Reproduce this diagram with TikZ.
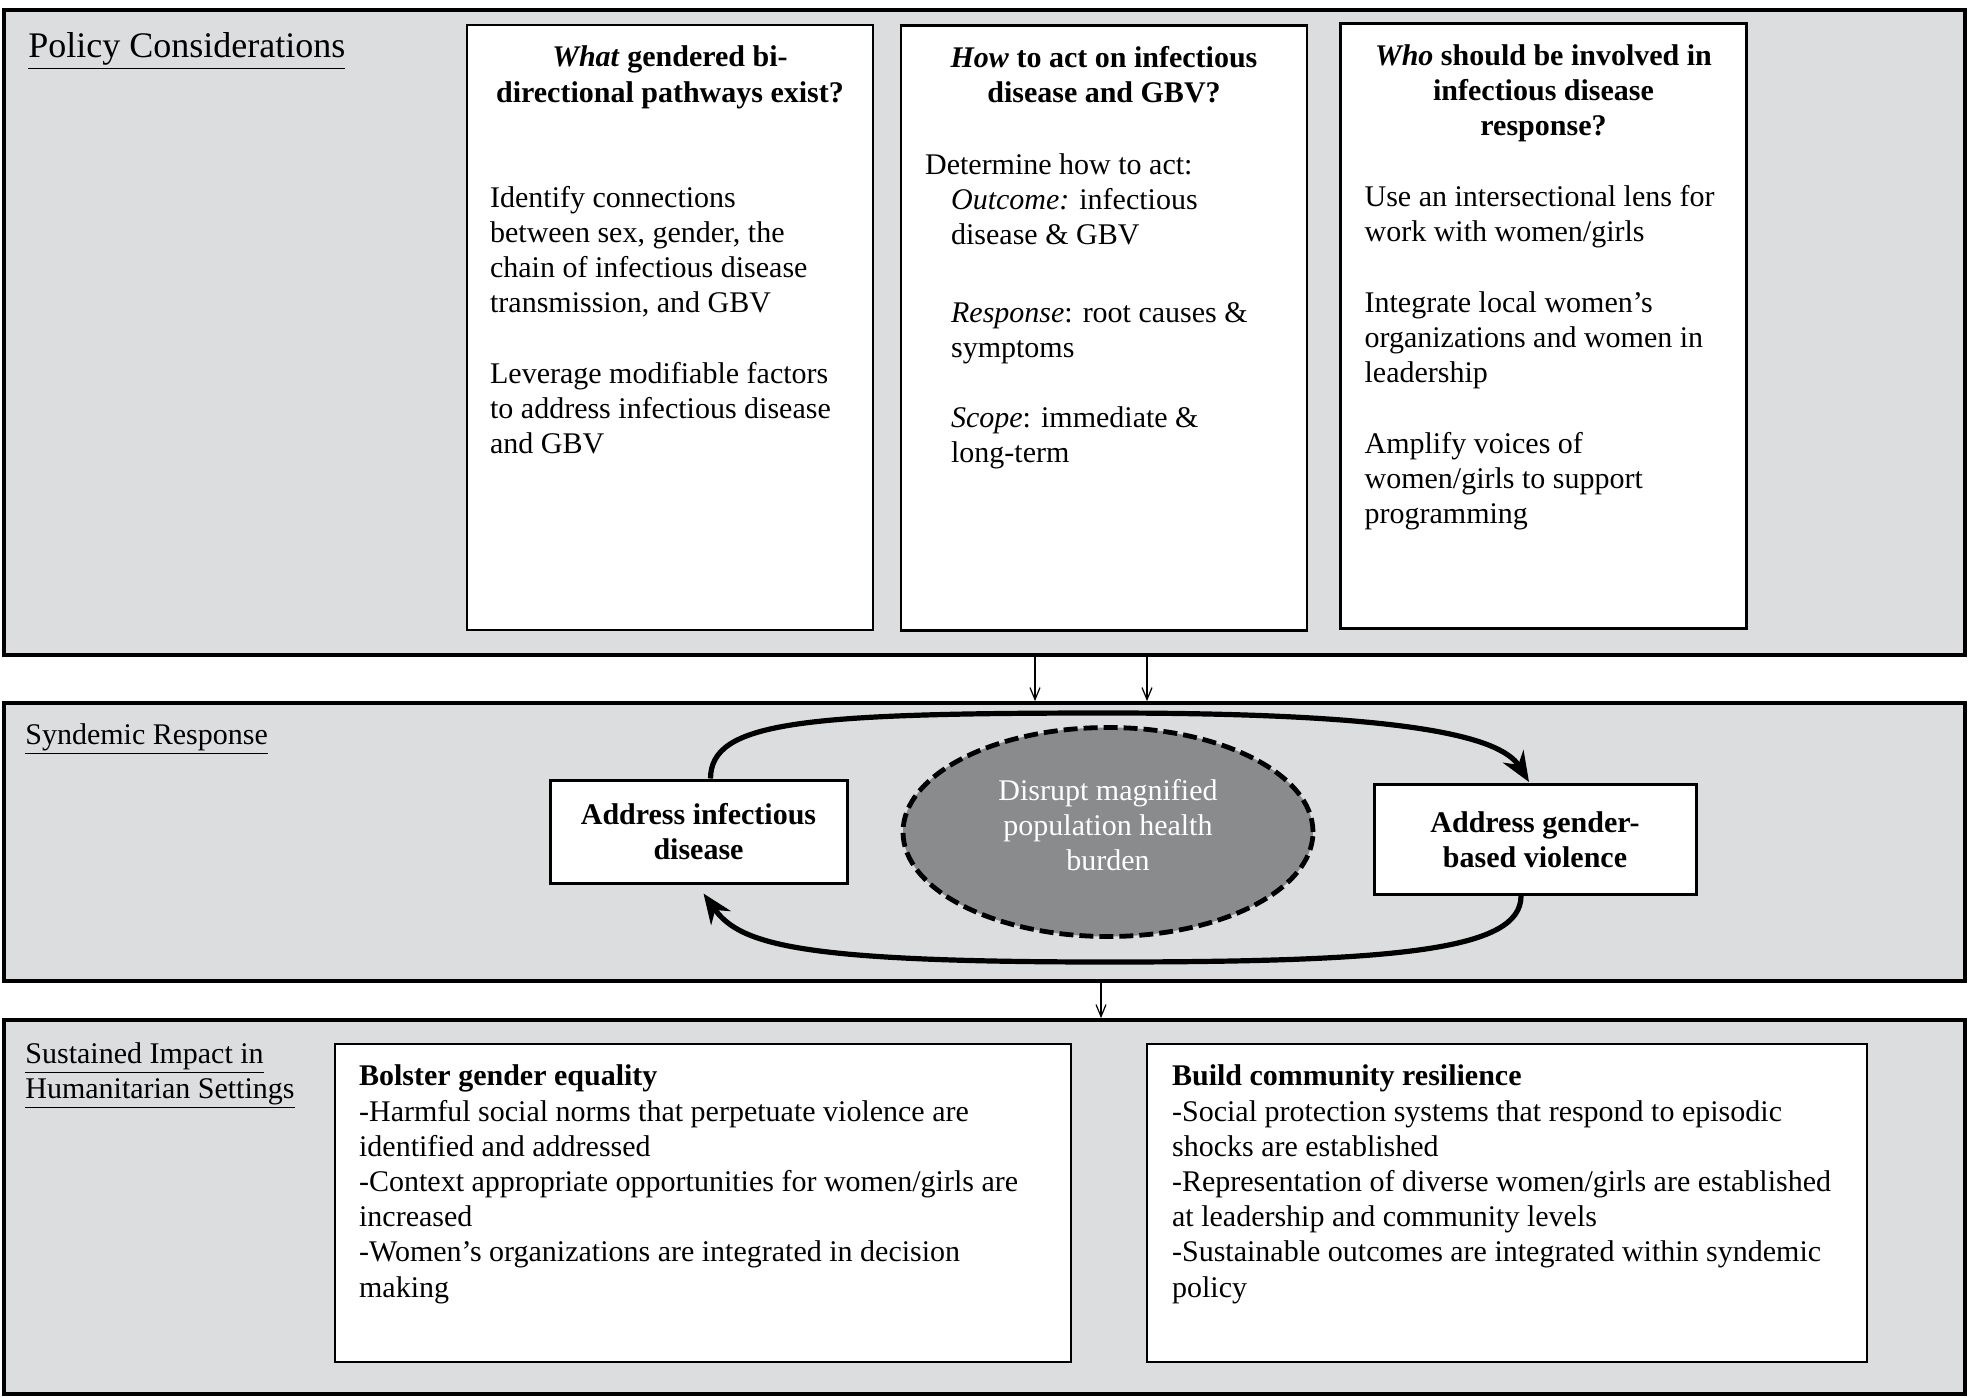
\documentclass[tikz,border=0pt]{standalone}
\usepackage{fontspec}
\setmainfont{Liberation Serif}
\usetikzlibrary{positioning,shapes.geometric,arrows.meta}
\definecolor{panelgray}{RGB}{220,221,222}
\definecolor{burdengray}{RGB}{138,139,141}

\begin{document}
\begin{tikzpicture}[x=0.5pt,y=-0.5pt,
  every node/.style={font=\fontsize{15}{17.6}\selectfont, inner sep=0pt},
  panel/.style={draw, line width=1.9pt, fill=panelgray, minimum width=980.5pt},
  panellbl/.style={anchor=north west, align=left},
  qbox/.style={draw, line width=1.3pt, fill=white, minimum width=203pt, minimum height=302.5pt},
  qtitle/.style={align=center, font=\fontsize{15}{17.6}\selectfont\bfseries},
  qbody/.style={align=left, anchor=north west},
  actbox/.style={draw, line width=1.5pt, fill=white, align=center, font=\fontsize{15}{17.6}\selectfont\bfseries},
  impactbox/.style={draw, line width=1.3pt, fill=white, minimum height=159pt},
  cycle arrow/.style={line width=2.6pt, -{Stealth[length=15pt,width=12pt]}},
  flow/.style={line width=0.6pt, -{Straight Barb[length=6pt,width=5pt]}}]
  \useasboundingbox (0,0) rectangle (1969,1397);

  % three panels
  \node[panel, minimum height=322.5pt] (policy) at (984.5,332.5) {};
  \node[panel, minimum height=139pt] (syndemic) at (984.5,842) {};
  \node[panel, minimum height=187pt] (sustained) at (984.5,1207) {};
  \node[panellbl, font=\fontsize{18}{20}\selectfont] (policylbl) at (28,32) {\underline{Policy Considerations}};
  \node[panellbl] (syndemiclbl) at (25,723) {\underline{Syndemic Response}};
  \node[panellbl] (sustainedlbl) at (25,1042) {\underline{Sustained Impact in}\\\underline{Humanitarian Settings}};

  % policy questions
  \node[qbox] (what) at (670,327.5) {};
  \node[qbox] (how) at (1104,328) {};
  \node[qbox] (who) at (1543.5,326) {};
  \node[qtitle, below=11pt of what.north] (whattitle) {\textit{What} gendered bi-\\directional pathways exist?};
  \node[qtitle, below=11pt of how.north] (howtitle) {\textit{How} to act on infectious\\disease and GBV?};
  \node[qtitle, below=11pt of who.north] (whotitle) {\textit{Who} should be involved in\\infectious disease\\response?};
  \node[qbody] (whatbody) at ([shift={(12pt,-81pt)}]what.north west)
    {Identify connections\\between sex, gender, the\\chain of infectious disease\\transmission, and GBV\\[17.6pt]Leverage modifiable factors\\to address infectious disease\\and GBV};
  \node[qbody] (howbody) at ([shift={(12.5pt,-64.5pt)}]how.north west)
    {Determine how to act:\\
     \hspace*{13pt}\textit{Outcome:} infectious\\
     \hspace*{13pt}disease \& GBV\\[21pt]
     \hspace*{13pt}\textit{Response}: root causes \&\\
     \hspace*{13pt}symptoms\\[17.6pt]
     \hspace*{13pt}\textit{Scope}: immediate \&\\
     \hspace*{13pt}long-term};
  \node[qbody] (whobody) at ([shift={(12.5pt,-81.5pt)}]who.north west)
    {Use an intersectional lens for\\work with women/girls\\[17.6pt]Integrate local women's\\organizations and women in\\leadership\\[17.6pt]Amplify voices of\\women/girls to support\\programming};

  % syndemic cycle
  \node[actbox, minimum width=148.5pt, minimum height=51.5pt] (infect) at (698.5,831.5) {Address infectious\\disease};
  \node[actbox, minimum width=161pt, minimum height=55pt] (gbv) at (1535,839.5) {Address gender-\\based violence};
  \node[ellipse, draw, line width=2.4pt, dash pattern=on 7pt off 3pt, fill=burdengray,
    minimum width=205pt, minimum height=104.5pt] (burden) at (1108,832) {};
  \node[align=center, text=white] (burdentxt) at ([yshift=3.5pt]burden.center) {Disrupt magnified\\population health\\burden};
  \draw[cycle arrow] ([xshift=6pt]infect.north) .. controls (711,722) and (800,713) .. (1107,713)
    .. controls (1400,713) and (1500,735) .. ([shift={(-3pt,0.5pt)}]gbv.north);
  \draw[cycle arrow] ([xshift=-7pt]gbv.south) .. controls (1521,950) and (1400,962) .. (1107,962)
    .. controls (800,962) and (740,945) .. ([shift={(2.5pt,-4.5pt)}]infect.south);

  % links between panels
  \coordinate (arrA) at (1035,0);
  \coordinate (arrB) at (1147,0);
  \coordinate (arrC) at (1101,0);
  \draw[flow] (policy.south -| arrA) -- (syndemic.north -| arrA);
  \draw[flow] (policy.south -| arrB) -- (syndemic.north -| arrB);
  \draw[flow] (syndemic.south -| arrC) -- (sustained.north -| arrC);

  % sustained impact
  \node[impactbox, minimum width=368pt] (bolster) at (703,1203) {};
  \node[impactbox, minimum width=360pt] (build) at (1507,1203) {};
  \node[qbody] (bolstertxt) at ([shift={(12.5pt,-11pt)}]bolster.north west)
    {\textbf{Bolster gender equality}\\-Harmful social norms that perpetuate violence are\\identified and addressed\\-Context appropriate opportunities for women/girls are\\increased\\-Women's organizations are integrated in decision\\making};
  \node[qbody] (buildtxt) at ([shift={(13pt,-11pt)}]build.north west)
    {\textbf{Build community resilience}\\-Social protection systems that respond to episodic\\shocks are established\\-Representation of diverse women/girls are established\\at leadership and community levels\\-Sustainable outcomes are integrated within syndemic\\policy};
\end{tikzpicture}
\end{document}
